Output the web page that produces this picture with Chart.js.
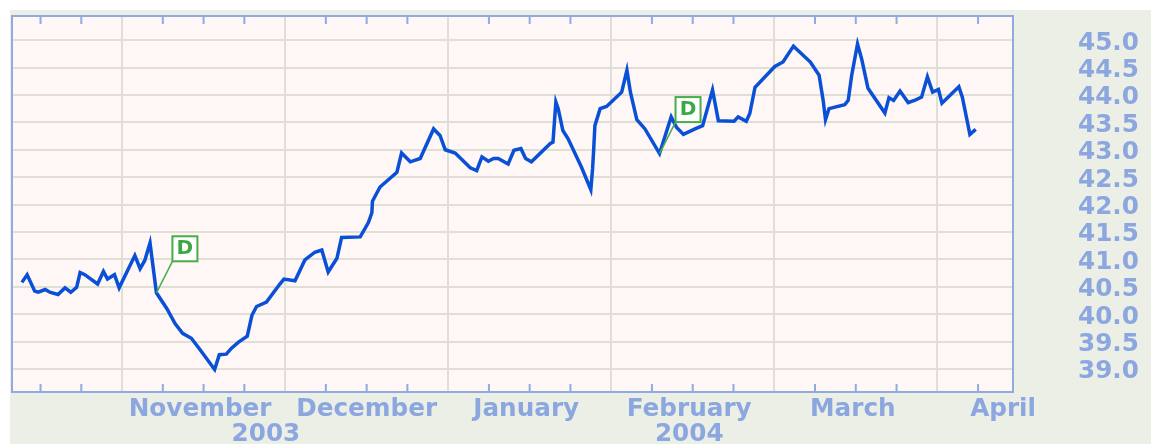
<!DOCTYPE html>
<html>
<head>
<meta charset="utf-8">
<title>Price chart</title>
<style>
  html, body { margin: 0; background: #fff; overflow: hidden; }
  #panel { position: absolute; left: 10px; top: 10px; width: 1141px; height: 434px; background: #ecefe6; }
  #priceChart { position: absolute; left: 0; top: 0; }
</style>
<script src="https://cdn.jsdelivr.net/npm/chart.js@4/dist/chart.umd.min.js"></script>
</head>
<body>
<div id="panel"></div>
<canvas id="priceChart" width="1151" height="444"></canvas>
<script>
// days counted along the axis, closing price
const days = [
    -0.2, 0.7, 2.0, 2.6, 3.8, 4.6, 6.0, 7.2, 8.2, 9.2, 9.8, 10.6, 12.8, 13.8, 14.5, 15.7, 16.5, 19.2, 20.1, 20.9,
    21.8, 22.9, 24.7, 26.1, 27.4, 28.9, 30.4, 32.9, 33.7, 34.9, 35.8, 37.0, 38.5, 39.3, 40.1, 41.8, 44.1, 44.8, 46.7, 48.4,
    50.1, 51.3, 52.4, 53.9, 54.7, 57.9, 59.3, 59.9, 60.0, 61.3, 64.2, 65.0, 66.5, 68.2, 70.5, 71.6, 72.5, 74.2, 76.8, 77.9,
    78.8, 79.9, 80.8, 81.6, 83.3, 84.3, 85.5, 86.3, 87.3, 90.5, 91.0, 91.5, 91.9, 92.7, 93.6, 95.9, 97.5, 97.8, 98.0, 98.2,
    99.1, 100.2, 102.8, 103.7, 104.3, 105.4, 106.8, 109.3, 111.3, 112.2, 113.4, 115.4, 116.7, 118.4, 119.4, 122.1, 122.8, 124.2, 124.8, 125.7,
    129.1, 130.5, 132.3, 135.2, 136.7, 137.4, 137.8, 138.4, 141.1, 141.7, 142.3, 143.3, 144.0, 145.1, 148.0, 148.7, 149.5, 150.6, 152.0, 153.3,
    154.3, 155.3, 156.2, 157.2, 157.8, 160.7, 161.3, 162.6, 163.6
];
const prices = [
    40.58, 40.72, 40.42, 40.40, 40.45, 40.40, 40.36, 40.48, 40.40, 40.49, 40.76, 40.72, 40.55, 40.78, 40.64, 40.72, 40.48, 41.07, 40.83, 40.98,
    41.30, 40.39, 40.10, 39.83, 39.65, 39.56, 39.35, 38.99, 39.26, 39.27, 39.38, 39.49, 39.60, 39.98, 40.14, 40.22, 40.55, 40.64, 40.61, 40.99,
    41.13, 41.17, 40.77, 41.02, 41.40, 41.41, 41.67, 41.85, 42.06, 42.32, 42.59, 42.94, 42.78, 42.84, 43.38, 43.26, 43.00, 42.94, 42.67, 42.62,
    42.87, 42.79, 42.84, 42.84, 42.74, 42.99, 43.02, 42.84, 42.78, 43.11, 43.14, 43.87, 43.75, 43.35, 43.20, 42.68, 42.27, 42.65, 43.02, 43.44,
    43.75, 43.79, 44.05, 44.45, 44.05, 43.55, 43.38, 42.93, 43.60, 43.41, 43.28, 43.38, 43.44, 44.09, 43.53, 43.52, 43.60, 43.52, 43.66, 44.14,
    44.52, 44.60, 44.89, 44.60, 44.36, 43.90, 43.55, 43.75, 43.82, 43.90, 44.36, 44.93, 44.66, 44.12, 43.67, 43.95, 43.90, 44.07, 43.86, 43.91,
    43.96, 44.33, 44.05, 44.10, 43.85, 44.15, 43.96, 43.28, 43.37
];

const priceTicks = [39.0, 39.5, 40.0, 40.5, 41.0, 41.5, 42.0, 42.5, 43.0, 43.5, 44.0, 44.5, 45.0];
const gridDays = [17, 45, 73, 101, 129, 157];
const weekDays = [3, 10, 24, 31, 38, 52, 59, 66, 80, 87, 94, 108, 115, 122, 136, 143, 150, 164];
const labelDays = [30.4, 41.7, 59, 86.4, 114.4, 142.5, 168.3];
const axisLabels = [["November"], ["", "2003"], ["December"], ["January"], ["February", "2004"], ["March"], ["April"]];
const flagDays = [22.9, 109.3];

const blueText = "#8ca7e0";
const labelFont = { family: "'DejaVu Sans'", size: 24.7, weight: "bold", lineHeight: 1.02 };

const chartFurniture = {
    id: "chartFurniture",
    beforeDraw(chart) {
        const { ctx, chartArea: a } = chart;
        ctx.save();
        ctx.fillStyle = "#fff7f5";
        ctx.fillRect(a.left, a.top, a.width, a.height);
        ctx.restore();
    },
    afterDatasetsDraw(chart) {
        const { ctx, chartArea: a, scales } = chart;
        ctx.save();

        // frame and the short inward week marks
        ctx.strokeStyle = "#8fabe2";
        ctx.lineWidth = 2;
        ctx.strokeRect(a.left, a.top, a.width, a.height);
        weekDays.forEach((day) => {
            const x = scales.x.getPixelForValue(day);
            ctx.beginPath();
            ctx.moveTo(x, a.top);
            ctx.lineTo(x, a.top + 8);
            ctx.moveTo(x, a.bottom);
            ctx.lineTo(x, a.bottom - 8);
            ctx.stroke();
        });

        // dividend flags
        flagDays.forEach((day) => {
            const x = scales.x.getPixelForValue(day);
            const y = scales.y.getPixelForValue(prices[days.indexOf(day)]);
            const left = x + 16;
            const top = y - 56.5;
            ctx.strokeStyle = "#46ad4a";
            ctx.lineWidth = 1.5;
            ctx.beginPath();
            ctx.moveTo(x, y);
            ctx.lineTo(left, top + 25);
            ctx.stroke();
            ctx.fillStyle = "#ffffff";
            ctx.fillRect(left, top, 25, 25);
            ctx.lineWidth = 2;
            ctx.strokeRect(left, top, 25, 25);
            ctx.fillStyle = "#3ba843";
            ctx.font = "bold 20px 'DejaVu Sans'";
            ctx.textAlign = "center";
            ctx.textBaseline = "middle";
            ctx.fillText("D", left + 12.5, top + 12.5);
        });
        ctx.restore();
    },
};

new Chart("priceChart", {
    type: "line",
    data: {
        labels: days,
        datasets: [
            {
                label: "Price",
                data: days.map((day, i) => ({ x: day, y: prices[i] })),
                borderColor: "#0a50d6",
                borderWidth: 3.5,
                pointRadius: 0,
                tension: 0,
                fill: false,
            },
        ],
    },
    options: {
        responsive: false,
        animation: false,
        layout: { padding: { left: 12, top: 16, right: 0, bottom: 0 } },
        plugins: { legend: { display: false }, tooltip: { enabled: false } },
        scales: {
            x: {
                type: "linear",
                min: -1.9,
                max: 170,
                afterBuildTicks(scale) {
                    scale.ticks = gridDays.concat(labelDays).sort((a, b) => a - b).map((value) => ({ value }));
                },
                afterFit(scale) {
                    scale.height = 52;
                    scale.paddingLeft = 0;
                    scale.paddingRight = 0;
                },
                grid: {
                    drawTicks: false,
                    lineWidth: 2,
                    color: (c) => (c.tick && gridDays.includes(c.tick.value) ? "#e0dfd5" : "transparent"),
                },
                border: { display: false },
                ticks: {
                    autoSkip: false,
                    maxRotation: 0,
                    padding: 5,
                    color: blueText,
                    font: labelFont,
                    callback: (value) => {
                        const i = labelDays.indexOf(value);
                        return i < 0 ? "" : axisLabels[i];
                    },
                },
            },
            y: {
                position: "right",
                min: 38.58,
                max: 45.44,
                afterBuildTicks(scale) {
                    scale.ticks = priceTicks.map((value) => ({ value }));
                },
                afterFit(scale) {
                    scale.width = 138;
                    scale.paddingTop = 0;
                    scale.paddingBottom = 0;
                },
                grid: { drawTicks: false, lineWidth: 2, color: "#e0dfd5" },
                border: { display: false },
                ticks: {
                    padding: 65,
                    labelOffset: 3,
                    color: blueText,
                    font: labelFont,
                    callback: (value) => value.toFixed(1),
                },
            },
        },
    },
    plugins: [chartFurniture],
});
</script>
</body>
</html>
